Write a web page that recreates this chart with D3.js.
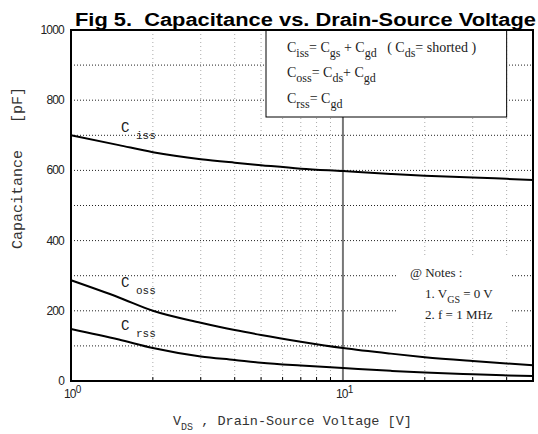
<!DOCTYPE html>
<html><head><meta charset="utf-8">
<script src="https://cdn.jsdelivr.net/npm/d3@7"></script>
<style>body{margin:0;background:#fff}</style>
</head><body><svg id="c" width="538" height="434"></svg>
<script>
const vds = [1, 1.5, 2, 3, 4, 5, 7, 10, 15, 20, 30, 40, 50];
const ciss = [700, 672, 652, 632, 622, 615, 605, 598, 590, 585, 580, 576, 573];
const coss = [287, 238, 200, 166, 145, 131, 112, 94, 78, 68, 57, 50, 45];
const crss = [148, 118, 94, 70, 60, 52, 44, 37, 29, 24, 19, 16, 14];
const yTicks = [0, 200, 400, 600, 800, 1000];
const yGrid = [100, 200, 300, 400, 500, 600, 700, 800, 900];
const xMinor = [2, 3, 4, 5, 6, 7, 8, 9, 20, 30, 40];
const xMajor = [1, 10];

const svg = d3.select("#c");
const L = 71, R = 533, T = 30, B = 381;
const x = d3.scaleLog().domain([1, 50]).range([L, R]);
const y = d3.scaleLinear().domain([0, 1000]).range([B, T]);
const mono = "'Liberation Mono', 'DejaVu Sans Mono', monospace";
const serif = "'Liberation Serif', serif";
const sans = "'Liberation Sans', Arial, sans-serif";

// grid
svg.append("g").selectAll("line").data(xMinor).join("line")
  .attr("x1", d => x(d)).attr("x2", d => x(d)).attr("y1", T).attr("y2", B)
  .attr("stroke", "#aaa").attr("stroke-width", 1).attr("stroke-dasharray", "1,3");
svg.append("g").selectAll("line").data(yGrid).join("line")
  .attr("x1", L).attr("x2", R).attr("y1", d => y(d)).attr("y2", d => y(d))
  .attr("stroke", "#222").attr("stroke-width", 1).attr("stroke-dasharray", "1,2");
// line at 10
svg.append("line").attr("x1", x(10)).attr("x2", x(10)).attr("y1", T).attr("y2", B)
  .attr("stroke", "#777").attr("stroke-width", 2);

// bottom minor ticks
svg.append("g").selectAll("line").data(xMinor).join("line")
  .attr("x1", d => x(d)).attr("x2", d => x(d)).attr("y1", B).attr("y2", B - 4)
  .attr("stroke", "#000").attr("stroke-width", 1);

// curves
const line = d3.line().x(d => x(d[0])).y(d => y(d[1])).curve(d3.curveMonotoneX);
[ciss, coss, crss].forEach(s => {
  svg.append("path").datum(vds.map((v, i) => [v, s[i]])).attr("d", line)
    .attr("fill", "none").attr("stroke", "#000").attr("stroke-width", 2);
});

// legend box
const bx0 = 266, bx1 = x(40), by1 = 117;
svg.append("rect").attr("x", bx0).attr("y", T).attr("width", bx1 - bx0).attr("height", by1 - T)
  .attr("fill", "#fff").attr("stroke", "#000").attr("stroke-width", 1);

function subText(g, xx, yy, parts, size, subSize, family, subDy) {
  const t = g.append("text").attr("x", xx).attr("y", yy).attr("xml:space", "preserve")
    .attr("font-family", family).attr("font-size", size).attr("fill", "#222");
  let sub = false;
  parts.forEach(p => {
    const ts = t.append("tspan").text(p[0]);
    if (p[1]) { ts.attr("font-size", subSize); if (!sub) ts.attr("dy", subDy || 5); sub = true; }
    else { if (sub) ts.attr("dy", -(subDy || 5)); sub = false; }
  });
  return t;
}
const lg = svg.append("g");
subText(lg, 287, 52, [["C",0],["iss",1],["= C",0],["gs",1],[" + C",0],["gd",1],["   ( C",0],["ds",1],["= shorted )",0]], 14, 12, serif);
subText(lg, 287, 77, [["C",0],["oss",1],["= C",0],["ds",1],["+ C",0],["gd",1]], 14, 12, serif);
subText(lg, 287, 103, [["C",0],["rss",1],["= C",0],["gd",1]], 14, 12, serif);

// notes
svg.append("rect").attr("x", 398).attr("y", 258).attr("width", 112).attr("height", 64).attr("fill", "#fff");
const ng = svg.append("g");
subText(ng, 410, 277, [["@ Notes :",0]], 13, 11, serif);
subText(ng, 425, 298, [["1. V",0],["GS",1],[" = 0 V",0]], 13, 10, serif);
subText(ng, 425, 319, [["2. f = 1 MHz",0]], 13, 10, serif);

// curve labels
const cl = svg.append("g");
subText(cl, 121, 132, [["C",0],[" iss",1]], 14, 11, mono, 7);
subText(cl, 121, 287, [["C",0],[" oss",1]], 14, 11, mono, 7);
subText(cl, 121, 330, [["C",0],[" rss",1]], 14, 11, mono, 7);

// frame
svg.append("rect").attr("x", L).attr("y", T).attr("width", R - L).attr("height", B - T)
  .attr("fill", "none").attr("stroke", "#000").attr("stroke-width", 2);

// y tick labels
svg.append("g").selectAll("text").data(yTicks).join("text")
  .attr("x", 64).attr("y", d => y(d) + 4).attr("text-anchor", "end")
  .attr("font-family", sans).attr("font-size", 12).attr("letter-spacing", -0.8).attr("fill", "#222")
  .text(d => d);
// x tick labels
xMajor.forEach(v => {
  const t = svg.append("text").attr("x", x(v) - 7).attr("y", 398)
    .attr("font-family", sans).attr("font-size", 12).attr("letter-spacing", -0.8).attr("fill", "#222");
  t.append("tspan").text("10");
  t.append("tspan").attr("dy", -5).attr("font-size", 10).text(Math.round(Math.log10(v)));
});

// axis titles
svg.append("text").attr("transform", "translate(22,168) rotate(-90)").attr("text-anchor", "middle")
  .attr("font-family", mono).attr("font-size", 15).attr("fill", "#333").attr("xml:space", "preserve")
  .text("Capacitance   [pF]");
const xt = svg.append("text").attr("x", 173).attr("y", 425)
  .attr("font-family", mono).attr("font-size", 13.5).attr("fill", "#333").attr("xml:space", "preserve");
xt.append("tspan").text("V");
xt.append("tspan").attr("font-size", 10).attr("dy", 5).text("DS");
xt.append("tspan").attr("dy", -5).text(" , Drain-Source Voltage [V]");

// title
svg.append("text").attr("x", 75).attr("y", 26).attr("font-family", sans).attr("font-weight", "bold")
  .attr("font-size", 18).attr("fill", "#000").attr("textLength", 461).attr("lengthAdjust", "spacingAndGlyphs")
  .attr("xml:space", "preserve").text("Fig 5.  Capacitance vs. Drain-Source Voltage");
</script></body></html>
